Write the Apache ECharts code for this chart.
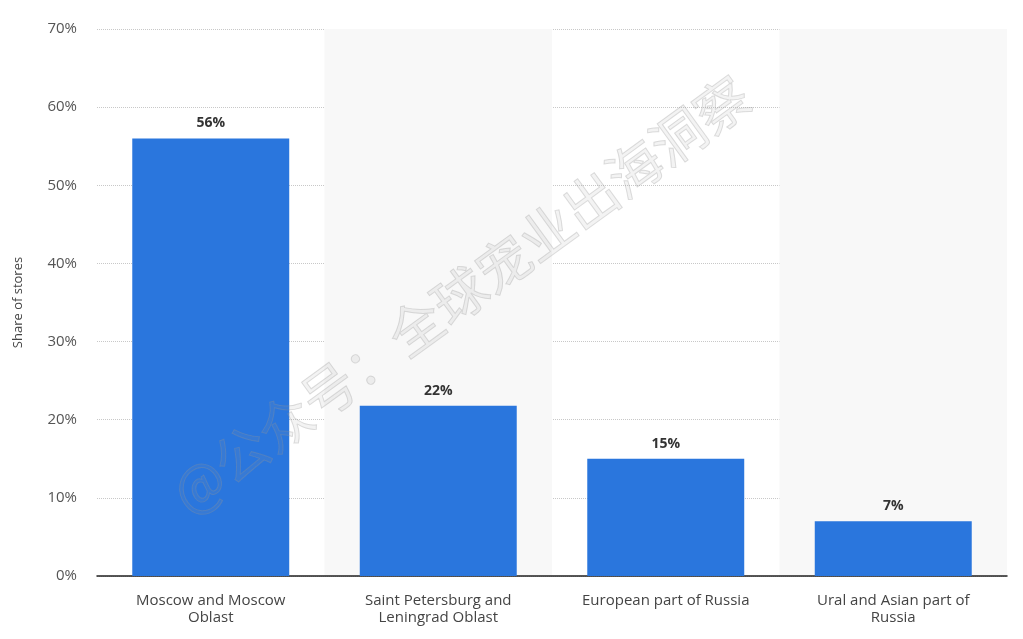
<!DOCTYPE html>
<html>
<head>
<meta charset="utf-8">
<script src="https://cdn.jsdelivr.net/npm/echarts@6/dist/echarts.min.js"></script>
<style>html,body{margin:0;padding:0;background:#fff;}#chart{width:1023px;height:639px;}</style>
</head>
<body>
<div id="chart"></div>
<script>
var categories = ['Moscow and Moscow\nOblast', 'Saint Petersburg and\nLeningrad Oblast', 'European part of Russia', 'Ural and Asian part of\nRussia'];
var shares = [56, 21.8, 15, 7];
var labels = ['56%', '22%', '15%', '7%'];
var yTicks = [0, 10, 20, 30, 40, 50, 60, 70];

var myChart = echarts.init(document.getElementById('chart'));
var option = {
	backgroundColor: '#fff',
	grid: { left: 97, right: 16, top: 29, bottom: 63 },
	xAxis: {
		type: 'category',
		data: categories,
		axisTick: { show: false },
		axisLine: { lineStyle: { color: '#222', width: 1.5 } },
		axisLabel: { color: '#444', fontSize: 15, lineHeight: 17, margin: 16, fontFamily: 'Open Sans' },
		splitArea: { show: true, areaStyle: { color: ['rgba(255,255,255,0)', '#f8f8f8'] } }
	},
	yAxis: {
		type: 'value',
		min: yTicks[0],
		max: yTicks[yTicks.length - 1],
		interval: 10,
		name: 'Share of stores',
		nameLocation: 'middle',
		nameGap: 72,
		nameTextStyle: { color: '#444', fontSize: 13, fontFamily: 'Open Sans' },
		axisLabel: { formatter: '{value}%', color: '#555', fontSize: 15, margin: 20, fontFamily: 'Open Sans' },
		axisLine: { show: false },
		axisTick: { show: false },
		splitLine: { lineStyle: { color: '#c8c8c8', type: 'dotted' } }
	},
	series: [{
		type: 'bar',
		data: shares,
		barWidth: '69%',
		itemStyle: { color: '#2a76dd' },
		label: {
			show: true, position: 'top',
			formatter: function (p) { return labels[p.dataIndex]; },
			color: '#333', fontWeight: 'bold', fontSize: 14, distance: 8, fontFamily: 'Open Sans'
		}
	}],
	graphic: [{
		type: 'text',
		rotation: Math.PI * 36 / 180,
		position: [162, 478],
		style: {
			text: '@公众号：全球宠业出海洞察',
			x: 0, y: 0,
			font: '54px "Noto Sans CJK SC"',
			fill: 'rgba(160,160,160,0.12)',
			stroke: 'rgba(150,150,150,0.3)',
			lineWidth: 1
		},
		z: 100
	}]
};
myChart.setOption(option);
</script>
</body>
</html>
